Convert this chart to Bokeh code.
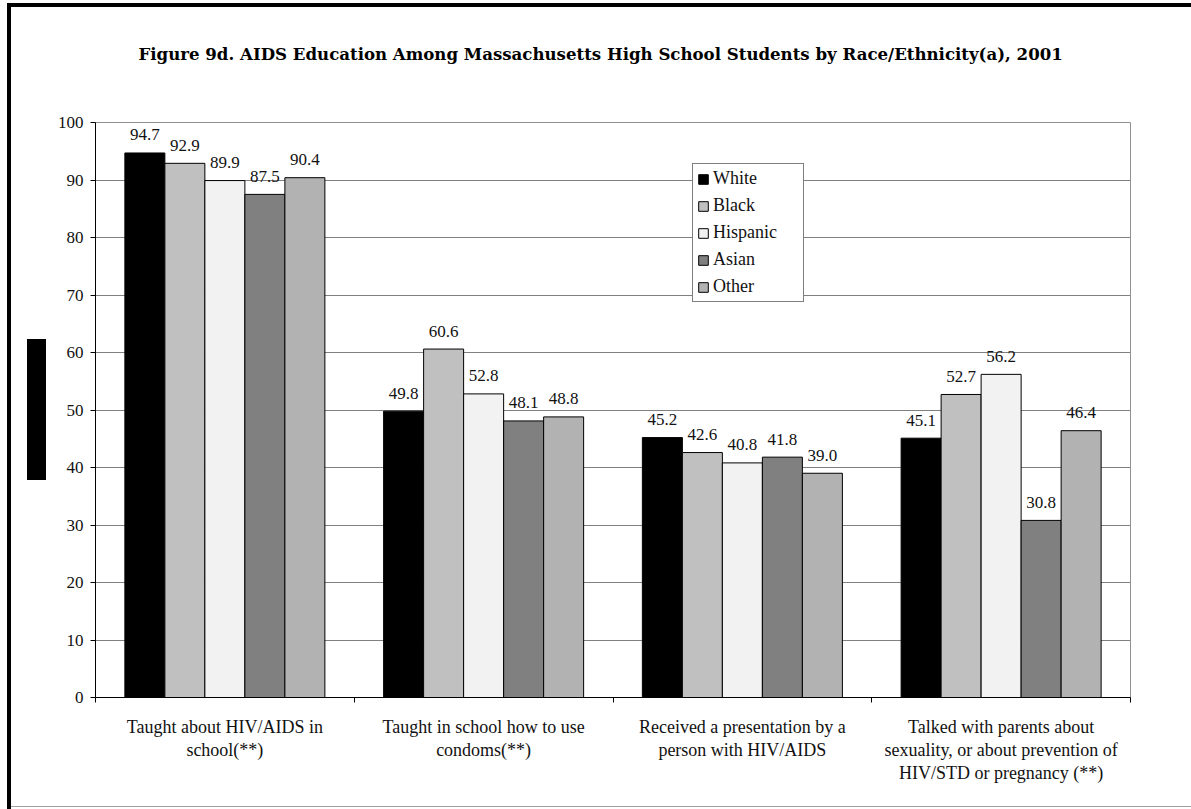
from bokeh.plotting import figure
from bokeh.models import ColumnDataSource, Range1d, FixedTicker, Legend, LegendItem, Title
from bokeh.core.properties import value
from bokeh.embed import file_html
from bokeh.resources import INLINE

# ---- data ----
categories = [
    "Taught about HIV/AIDS in\nschool(**)",
    "Taught in school how to use\ncondoms(**)",
    "Received a presentation by a\nperson with HIV/AIDS",
    "Talked with parents about\nsexuality, or about prevention of\nHIV/STD or pregnancy (**)",
]
groups = ["White", "Black", "Hispanic", "Asian", "Other"]
white = [94.7, 49.8, 45.2, 45.1]
black = [92.9, 60.6, 42.6, 52.7]
hispanic = [89.9, 52.8, 40.8, 56.2]
asian = [87.5, 48.1, 41.8, 30.8]
other = [90.4, 48.8, 39.0, 46.4]
y_ticks = [0, 10, 20, 30, 40, 50, 60, 70, 80, 90, 100]
title_text = ("Figure 9d.  AIDS Education Among Massachusetts High School Students "
              "by Race/Ethnicity(a), 2001")

series = [white, black, hispanic, asian, other]
colors = ["#000000", "#c0c0c0", "#f2f2f2", "#808080", "#b2b2b2"]

SERIF = "Liberation Serif"
W, H = 1191, 809
BW = 0.1546  # bar width in category units

p = figure(width=W, height=H, x_range=Range1d(0, 4), y_range=Range1d(0, 100),
           output_backend="svg", toolbar_location=None,
           min_border_left=95, min_border_right=61, min_border_top=122,
           min_border_bottom=112, title=title_text)

p.title.text_font = "DejaVu Serif"
p.title.text_font_style = "bold"
p.title.text_font_size = "16.6px"
p.title.text_color = "black"
p.title.align = "left"
p.title.offset = 43
p.title.standoff = 70

# empty spacer panel between the title and the plot frame
p.add_layout(Title(text=" ", text_font_size="20px", standoff=0), "above")

p.background_fill_color = "white"
p.border_fill_color = None
p.outline_line_color = "#909090"
p.outline_line_width = 1

renderers = []
for j, (name, vals) in enumerate(zip(groups, series)):
    src = ColumnDataSource(dict(
        x=[i + 0.5 + (j - 2) * BW for i in range(len(vals))],
        top=vals,
        label=[f"{v:.1f}" for v in vals],
    ))
    r = p.vbar(x="x", top="top", bottom=0, width=BW, source=src,
               fill_color=colors[j], line_color="black", line_width=1)
    renderers.append(r)
    p.text(x="x", y="top", text="label", source=src, text_align="center",
           text_baseline="middle", y_offset=-18, text_color="#111111",
           text_font=value(SERIF), text_font_size="17px")

# y axis
ya = p.yaxis[0]
ya.ticker = FixedTicker(ticks=y_ticks)
ya.major_label_text_font = SERIF
ya.major_label_text_font_size = "17px"
ya.major_label_text_color = "#111111"
ya.major_tick_out = 5
ya.major_tick_in = 0
ya.minor_tick_out = 0
ya.minor_tick_in = 0
ya.axis_line_color = "black"
ya.major_tick_line_color = "black"
ya.major_label_standoff = 7

# x axis: labels at category centers, ticks at category boundaries
xa = p.xaxis[0]
xa.ticker = FixedTicker(ticks=[i + 0.5 for i in range(len(categories))],
                        minor_ticks=list(range(len(categories) + 1)))
xa.major_label_overrides = {i + 0.5: c for i, c in enumerate(categories)}
xa.major_tick_line_color = None
xa.major_tick_out = 0
xa.major_tick_in = 0
xa.minor_tick_out = 5
xa.minor_tick_in = 0
xa.minor_tick_line_color = "black"
xa.axis_line_color = "black"
xa.major_label_text_font = SERIF
xa.major_label_text_font_size = "18px"
xa.major_label_text_color = "#111111"
xa.major_label_text_line_height = 1.15
xa.major_label_standoff = 14

p.ygrid.grid_line_color = "#808080"
p.xgrid.grid_line_color = None

legend = Legend(items=[LegendItem(label=g, renderers=[r]) for g, r in zip(groups, renderers)],
                location=(597, 395))
legend.border_line_color = "black"
legend.border_line_width = 1
legend.background_fill_color = "white"
legend.background_fill_alpha = 1
legend.padding = 4
legend.spacing = 6
legend.label_height = 18
legend.glyph_height = 12
legend.glyph_width = 12
legend.label_standoff = 4
legend.label_width = 86
legend.margin = 0
legend.label_text_font = SERIF
legend.label_text_font_size = "18px"
legend.label_text_color = "#111111"
p.add_layout(legend, "center")

# page frame lines and the black block left of the axis (CSS background layers)
p.styles = {"background": ", ".join([
    "linear-gradient(#000,#000) 7px 3px / 1184px 4px no-repeat",
    "linear-gradient(#000,#000) 7px 3px / 4px 806px no-repeat",
    "linear-gradient(#a0a0a0,#a0a0a0) 7px 806px / 1184px 1px no-repeat",
    "linear-gradient(#000,#000) 27px 339px / 19px 141px no-repeat",
    "white",
])}

open("out.html", "w").write(file_html(p, INLINE))
